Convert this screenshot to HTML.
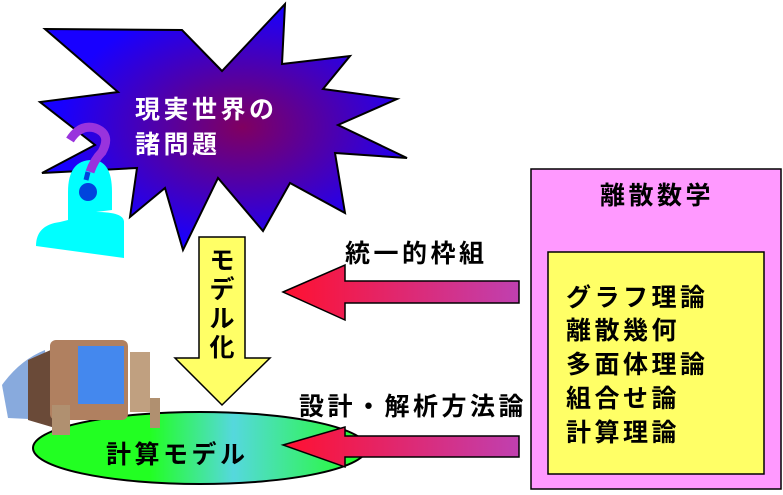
<!DOCTYPE html>
<html><head><meta charset="utf-8"><style>
body{margin:0;width:783px;height:490px;background:#fff;overflow:hidden}
svg text{font-family:"Liberation Sans","Noto Sans CJK JP",sans-serif;font-weight:bold;letter-spacing:3.5px}
</style></head><body>
<svg width="783" height="490" viewBox="0 0 783 490">
<defs>
<radialGradient id="sb" cx="0.55" cy="0.5" r="0.5"><stop offset="0" stop-color="#800060"/><stop offset="1" stop-color="#1800ff"/></radialGradient>
<linearGradient id="el" x1="0" x2="1"><stop offset="0.35" stop-color="#22ff22"/><stop offset="0.6" stop-color="#55d8dd"/><stop offset="1" stop-color="#22ff22"/></linearGradient>
<linearGradient id="ra" x1="0" x2="1"><stop offset="0" stop-color="#ff1030"/><stop offset="1" stop-color="#c040b0"/></linearGradient>
</defs>
<polygon points="45,29 182,30 222,71 285,4 282,64 350,56 323,89 397,99 338,125 407,158 335,153 345,213 290,183 263,231 218,178 183,250 165,188 130,217 137,168 42,173 95,145 40,102 118,92" fill="url(#sb)" stroke="#000" stroke-width="2"/>
<text x="135" y="118" font-size="25" fill="#fff">現実世界の</text>
<text x="135" y="153" font-size="25" fill="#fff">諸問題</text>
<path d="M68,192 Q68,160 92,160 Q112,160 112,192 L112,210 L96,212 Q124,212 124,222 L124,258 L36,246 Q36,225 60,222 L68,220 Z" fill="#00ffff"/>
<path d="M70,140 Q80,124 95,128 Q112,134 102,152 Q94,160 90,172" fill="none" stroke="#9933dd" stroke-width="9"/>
<circle cx="88" cy="192" r="9" fill="#0044dd"/>
<path d="M88,172 L86,180" stroke="#0044dd" stroke-width="5"/>
<polygon points="199,237 245,237 245,358 270,358 222,405 175,358 199,358" fill="#ffff66" stroke="#000" stroke-width="1.5"/>
<text x="222" y="269" font-size="25" fill="#000" text-anchor="middle" style="letter-spacing:0">モ</text>
<text x="222" y="298" font-size="25" fill="#000" text-anchor="middle" style="letter-spacing:0">デ</text>
<text x="222" y="327" font-size="25" fill="#000" text-anchor="middle" style="letter-spacing:0">ル</text>
<text x="222" y="356" font-size="25" fill="#000" text-anchor="middle" style="letter-spacing:0">化</text>
<ellipse cx="200" cy="448" rx="167" ry="36" fill="url(#el)" stroke="#000" stroke-width="2"/>
<g>
<path d="M2,385 Q20,360 45,350 L50,420 L8,418 Z" fill="#88aadd"/>
<polygon points="28,360 62,345 62,430 28,420" fill="#6a4a38"/>
<rect x="50" y="340" width="78" height="80" rx="6" fill="#b08060"/>
<rect x="78" y="346" width="46" height="58" fill="#4488ee"/>
<rect x="130" y="352" width="20" height="60" fill="#c0a080"/>
<rect x="52" y="405" width="18" height="30" fill="#b09070"/>
<rect x="150" y="398" width="10" height="30" fill="#b09070"/>
</g>
<text x="106" y="463" font-size="25" fill="#000">計算モデル</text>
<polygon points="283,292 345,265 345,281 519,281 519,303 345,303 345,320" fill="url(#ra)" stroke="#000" stroke-width="1.5"/>
<polygon points="283,445 345,427 345,436 519,436 519,457 345,457 345,467" fill="url(#ra)" stroke="#000" stroke-width="1.5"/>
<text x="345" y="262" font-size="25" fill="#000">統一的枠組</text>
<text x="299" y="415" font-size="25" fill="#000">設計・解析方法論</text>
<rect x="531" y="169" width="250" height="320" fill="#ff99ff" stroke="#000" stroke-width="1.5"/>
<text x="600" y="204" font-size="25" fill="#000">離散数学</text>
<rect x="548" y="252" width="216" height="222" fill="#ffff66" stroke="#000" stroke-width="1.5"/>
<text x="566" y="306" font-size="25" fill="#000">グラフ理論</text>
<text x="566" y="339" font-size="25" fill="#000">離散幾何</text>
<text x="566" y="373" font-size="25" fill="#000">多面体理論</text>
<text x="566" y="407" font-size="25" fill="#000">組合せ論</text>
<text x="566" y="441" font-size="25" fill="#000">計算理論</text>
</svg>
</body></html>
